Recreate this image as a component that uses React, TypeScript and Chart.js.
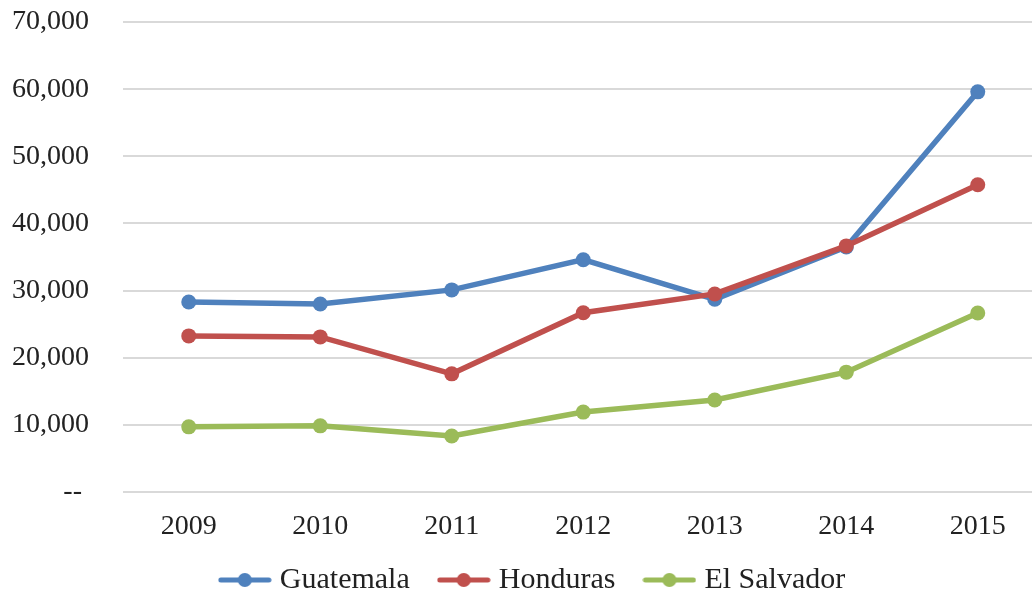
import React, { useEffect, useRef } from "react";
import { Chart, registerables } from "chart.js";

Chart.register(...registerables);

const years = ["2009", "2010", "2011", "2012", "2013", "2014", "2015"];
const guatemala = [28300, 28000, 30100, 34600, 28700, 36500, 59600];
const honduras = [23250, 23100, 17600, 26700, 29500, 36650, 45750];
const elSalvador = [9700, 9850, 8350, 11900, 13700, 17850, 26650];
const seriesNames = ["Guatemala", "Honduras", "El Salvador"];
const seriesColors = ["#4F81BD", "#C0504D", "#9BBB59"];

const FONT = "'Liberation Serif', 'Times New Roman', serif";

function makeMarker(color: string): HTMLCanvasElement {
  const c = document.createElement("canvas");
  c.width = 54;
  c.height = 18;
  const ctx = c.getContext("2d")!;
  ctx.strokeStyle = color;
  ctx.lineWidth = 5;
  ctx.lineCap = "round";
  ctx.beginPath();
  ctx.moveTo(3, 9);
  ctx.lineTo(51, 9);
  ctx.stroke();
  ctx.fillStyle = color;
  ctx.beginPath();
  ctx.arc(27, 9, 7, 0, Math.PI * 2);
  ctx.fill();
  return c;
}

const legendShift = {
  id: "legendShift",
  afterLayout(chart: any) {
    const lg = chart.legend;
    if (!lg) return;
    lg.left += 9.5;
    lg.right += 9.5;
    lg.top -= 11;
    lg.bottom -= 11;
  },
};

export default function App() {
  const ref = useRef<HTMLCanvasElement | null>(null);

  useEffect(() => {
    if (!ref.current) return;
    const data = [guatemala, honduras, elSalvador];
    const orders = [2, 1, 0];
    const markers = seriesColors.map(makeMarker);
    const chart = new Chart(ref.current, {
      type: "line",
      data: {
        labels: years,
        datasets: data.map((d, i) => ({
          label: seriesNames[i],
          data: d,
          borderColor: seriesColors[i],
          backgroundColor: seriesColors[i],
          borderWidth: 5.5,
          pointRadius: 7.5,
          pointBorderWidth: 0,
          pointBackgroundColor: seriesColors[i],
          pointStyle: "circle",
          tension: 0,
          order: orders[i],
        })),
      },
      options: {
        animation: false,
        responsive: false,
        maintainAspectRatio: false,
        layout: { padding: { left: 0, top: 22, right: 0, bottom: 0 } },
        plugins: {
          tooltip: { enabled: false },
          legend: {
            position: "bottom",
            labels: {
              usePointStyle: true,
              pointStyleWidth: 40,
              padding: 34,
              color: "#222",
              font: { family: FONT, size: 30 },
              generateLabels: () =>
                seriesNames.map((n, i) => ({
                  text: n,
                  datasetIndex: i,
                  pointStyle: markers[i],
                  fillStyle: seriesColors[i],
                  strokeStyle: seriesColors[i],
                  lineWidth: 0,
                  hidden: false,
                  fontColor: "#222",
                })),
            },
          },
        },
        scales: {
          x: {
            offset: true,
            grid: { display: false, drawTicks: false },
            border: { display: false },
            ticks: {
              color: "#222",
              font: { family: FONT, size: 28 },
              padding: 18,
              maxRotation: 0,
            },
            afterFit: (s: any) => {
              s.height = 50;
            },
          },
          y: {
            min: 0,
            max: 70000,
            grid: { color: "#D9D9D9", lineWidth: 2, drawTicks: false },
            border: { display: false },
            ticks: {
              stepSize: 10000,
              color: "#222",
              font: { family: FONT, size: 28 },
              padding: 34,
              callback: (v: any) =>
                Number(v) === 0 ? "-- " : Number(v).toLocaleString("en-US"),
            },
            afterFit: (s: any) => {
              s.width = 123;
              s.paddingTop = 0;
              s.paddingBottom = 0;
            },
          },
        },
      },
      plugins: [legendShift],
    });
    return () => chart.destroy();
  }, []);

  return (
    <div
      style={{
        position: "fixed",
        left: 0,
        top: 0,
        width: 1032,
        height: 597,
        overflow: "hidden",
        background: "#fff",
      }}
    >
      <canvas ref={ref} width={1051} height={616} style={{ display: "block" }} />
    </div>
  );
}
